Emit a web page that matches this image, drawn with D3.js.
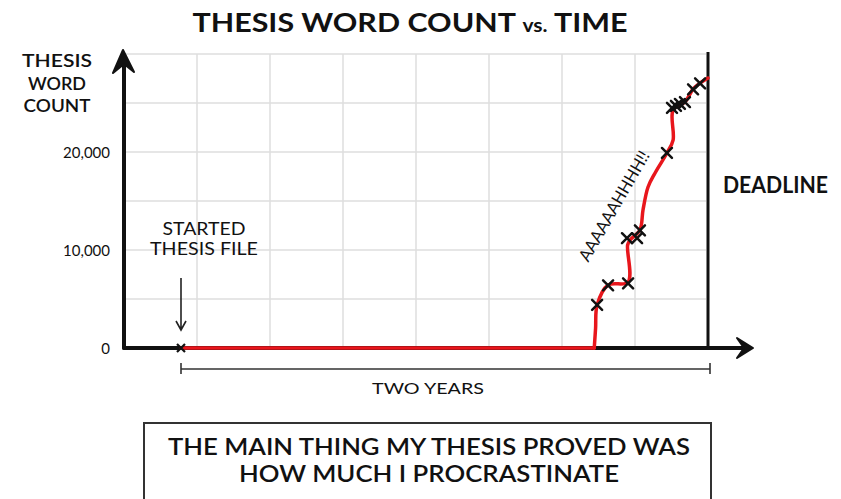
<!DOCTYPE html>
<html>
<head>
<meta charset="utf-8">
<script src="https://cdn.jsdelivr.net/npm/d3@7"></script>
<style>
  html, body { margin: 0; padding: 0; background: #fff; }
  svg { display: block; }
  text { font-family: Lato, "DejaVu Sans", sans-serif; fill: #111; }
</style>
</head>
<body>
<div id="chart"></div>
<script>
// months since the thesis file was created (two years = 24 months)
const flatMonths = [0, 18.82];
const flatWords  = [0, 0];
const curveMonths = [18.82, 18.88, 18.95, 19.45, 20.36, 20.34, 20.45, 20.9, 21.04, 21.27, 21.59, 22.13, 22.41, 22.41, 22.95, 23.32, 23.64, 24];
const curveWords  = [0, 2000, 4390, 6430, 6730, 10510, 11020, 12040, 14080, 16430, 17860, 19900, 21220, 24290, 25100, 26430, 27040, 27550];

// the little x marks (saved versions)
const markMonths = [18.95, 19.45, 20.36, 20.31, 20.77, 20.9, 22.13, 22.36, 22.54, 22.72, 22.95, 23.32, 23.64];
const markWords  = [4400, 6400, 6600, 11200, 11200, 12000, 19900, 24500, 24700, 24900, 25100, 26400, 27000];

const yTicks = [0, 10000, 20000];
const yTickLabels = ["0", "10,000", "20,000"];
const gridWords = [5000, 10000, 15000, 20000, 25000, 30000];

const width = 841, height = 499;
const originX = 124;

const svg = d3.select("#chart")
  .append("svg")
  .attr("width", width)
  .attr("height", height);

const x = d3.scaleLinear().domain([0, 24]).range([181, 708]);
const y = d3.scaleLinear().domain([0, 30000]).range([348, 54]);
const gx = d3.scaleLinear().domain([0, 8]).range([originX, x(24)]);

// grid
const grid = svg.append("g").attr("stroke", "#dedede").attr("stroke-width", 1.5);
grid.selectAll("line.h")
  .data(gridWords)
  .join("line")
  .attr("class", "h")
  .attr("x1", originX).attr("x2", x(24) - 2)
  .attr("y1", d => y(d)).attr("y2", d => y(d));
grid.selectAll("line.v")
  .data(d3.range(1, 8))
  .join("line")
  .attr("class", "v")
  .attr("x1", d => gx(d)).attr("x2", d => gx(d))
  .attr("y1", y(0)).attr("y2", y(30000));

// title
const title = svg.append("text")
  .attr("x", 410).attr("y", 32)
  .attr("text-anchor", "middle")
  .attr("font-size", 26).attr("font-weight", 700)
  .attr("textLength", 435).attr("lengthAdjust", "spacingAndGlyphs");
title.append("tspan").text("THESIS WORD COUNT ");
title.append("tspan").attr("font-size", 18).text("vs.");
title.append("tspan").text(" TIME");

// y label
svg.append("g").selectAll("text")
  .data(["THESIS", "WORD", "COUNT"])
  .join("text")
  .attr("x", 57).attr("y", (d, i) => 67 + i * 22.5)
  .attr("text-anchor", "middle")
  .attr("font-size", 18).attr("font-weight", 600)
  .attr("textLength", (d, i) => [70, 58, 67][i])
  .attr("lengthAdjust", "spacingAndGlyphs")
  .text(d => d);

// y tick labels
svg.append("g").selectAll("text")
  .data(yTicks)
  .join("text")
  .attr("x", 110)
  .attr("y", d => y(d) + 5.5)
  .attr("text-anchor", "end")
  .attr("font-size", 15)
  .text((d, i) => yTickLabels[i]);

// deadline line
svg.append("line")
  .attr("x1", x(24)).attr("x2", x(24))
  .attr("y1", y(30000) - 2).attr("y2", y(0))
  .attr("stroke", "#111").attr("stroke-width", 3);

svg.append("text")
  .attr("x", 723).attr("y", 193)
  .attr("font-size", 22).attr("font-weight", 700)
  .attr("textLength", 105).attr("lengthAdjust", "spacingAndGlyphs")
  .text("DEADLINE");

// axes with arrowheads
const axes = svg.append("g").attr("stroke", "#111").attr("stroke-width", 4).attr("stroke-linecap", "round");
axes.append("line").attr("x1", originX).attr("x2", originX).attr("y1", y(0)).attr("y2", 60);
axes.append("line").attr("x1", originX).attr("x2", 745).attr("y1", y(0)).attr("y2", y(0));
svg.append("path")
  .attr("d", `M${originX - 1},50 L${originX + 10},72 L${originX},64 L${originX - 11},73 Z`)
  .attr("fill", "#111").attr("stroke", "#111").attr("stroke-width", 2).attr("stroke-linejoin", "round");
svg.append("path")
  .attr("d", `M753,${y(0)} L737,${y(0) - 10} L744,${y(0)} L737,${y(0) + 10} Z`)
  .attr("fill", "#111").attr("stroke", "#111").attr("stroke-width", 2).attr("stroke-linejoin", "round");

// the word count curve: flat years, then the panic
const flatLine = d3.line()
  .x(d => x(d[0]))
  .y(d => y(d[1]));
const panicLine = d3.line()
  .x(d => x(d[0]))
  .y(d => y(d[1]))
  .curve(d3.curveCatmullRom.alpha(0.5));

const red = svg.append("g")
  .attr("fill", "none")
  .attr("stroke", "#e8161c")
  .attr("stroke-width", 3.5)
  .attr("stroke-linejoin", "round")
  .attr("stroke-linecap", "round");
red.append("path")
  .datum(flatMonths.map((m, i) => [m, flatWords[i]]))
  .attr("d", flatLine);
red.append("path")
  .datum(curveMonths.map((m, i) => [m, curveWords[i]]))
  .attr("d", panicLine);

// x marks
svg.append("g")
  .selectAll("path")
  .data(markMonths.map((m, i) => [m, markWords[i]]))
  .join("path")
  .attr("transform", d => `translate(${x(d[0])},${y(d[1])})`)
  .attr("d", "M-5,-5L5,5M-5,5L5,-5")
  .attr("stroke", "#111")
  .attr("stroke-width", 2.5)
  .attr("stroke-linecap", "round");

// starting mark
svg.append("path")
  .attr("transform", `translate(${x(0)},${y(0)})`)
  .attr("d", "M-4,-4L4,4M-4,4L4,-4")
  .attr("stroke", "#111").attr("stroke-width", 2.2);

// "started thesis file" note
svg.append("g").selectAll("text")
  .data(["STARTED", "THESIS FILE"])
  .join("text")
  .attr("x", 204).attr("y", (d, i) => 235 + i * 20)
  .attr("text-anchor", "middle")
  .attr("font-size", 17)
  .attr("textLength", (d, i) => [83, 108][i])
  .attr("lengthAdjust", "spacingAndGlyphs")
  .text(d => d);

svg.append("path")
  .attr("d", `M${x(0)},278 L${x(0)},330 M${x(0) - 5},321 L${x(0)},330 L${x(0) + 5},321`)
  .attr("fill", "none").attr("stroke", "#222").attr("stroke-width", 1.6);

// AAAAAAHHHH!!
svg.append("text")
  .attr("transform", "translate(614,206) rotate(-60)")
  .attr("text-anchor", "middle")
  .attr("dy", 6)
  .attr("font-size", 17)
  .attr("textLength", 124).attr("lengthAdjust", "spacingAndGlyphs")
  .text("AAAAAAHHHH!!");

// two years bracket
svg.append("path")
  .attr("d", `M${x(0)},363 L${x(0)},374 M${x(0)},369 L${x(24) + 2},369 M${x(24) + 2},363 L${x(24) + 2},374`)
  .attr("fill", "none").attr("stroke", "#333").attr("stroke-width", 1.6);

svg.append("text")
  .attr("x", 428).attr("y", 394)
  .attr("text-anchor", "middle")
  .attr("font-size", 16)
  .attr("textLength", 112).attr("lengthAdjust", "spacingAndGlyphs")
  .text("TWO YEARS");

// caption box
svg.append("rect")
  .attr("x", 144).attr("y", 423)
  .attr("width", 567).attr("height", 100)
  .attr("fill", "none").attr("stroke", "#333").attr("stroke-width", 2);

svg.append("g").selectAll("text")
  .data(["THE MAIN THING MY THESIS PROVED WAS", "HOW MUCH I PROCRASTINATE"])
  .join("text")
  .attr("x", 429).attr("y", (d, i) => 455 + i * 27)
  .attr("text-anchor", "middle")
  .attr("font-size", 22).attr("font-weight", 600)
  .attr("textLength", (d, i) => [522, 380][i])
  .attr("lengthAdjust", "spacingAndGlyphs")
  .text(d => d);
</script>
</body>
</html>
